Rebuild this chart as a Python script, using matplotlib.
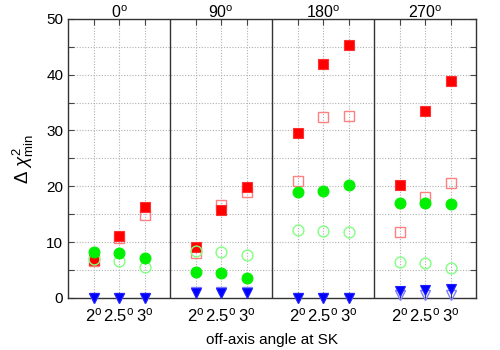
import matplotlib
matplotlib.use("Agg")
import matplotlib.pyplot as plt
import numpy as np

plt.rcParams['font.family'] = ['Liberation Sans', 'DejaVu Sans']
plt.rcParams['mathtext.fontset'] = 'custom'
plt.rcParams['mathtext.rm'] = 'Liberation Sans'
plt.rcParams['mathtext.it'] = 'Liberation Sans:italic'
plt.rcParams['font.size'] = 10

# Data
panels = ['0', '90', '180', '270']
offaxis = ['2', '2.5', '3']
red_filled = [[6.8, 11.0, 16.2], [9.1, 15.8, 19.9], [29.6, 42.0, 45.3], [20.2, 33.5, 38.8]]
red_open = [[6.6, 10.7, 14.9], [8.0, 16.7, 19.0], [21.0, 32.5, 32.6], [11.8, 18.0, 20.5]]
green_filled = [[8.2, 8.1, 7.2], [4.7, 4.5, 3.5], [18.9, 19.2, 20.2], [17.0, 17.0, 16.8]]
green_open = [[7.0, 6.6, 5.6], [8.4, 8.2, 7.7], [12.2, 12.0, 11.8], [6.4, 6.2, 5.4]]
blue_filled = [[0.0, 0.0, 0.0], [0.8, 0.8, 0.8], [0.0, 0.0, 0.0], [1.3, 1.4, 1.6]]
blue_open = [[0.0, 0.0, 0.0], [1.1, 1.1, 1.1], [0.0, 0.0, 0.0], [0.6, 0.6, 0.6]]

fig = plt.figure(figsize=(5, 3.5), dpi=100)
ax = fig.add_axes([0.136, 0.149, 0.816, 0.797])

npan = len(panels)
nx = len(offaxis)
xs = np.array([p * (nx + 1) + k + 1 for p in range(npan) for k in range(nx)])

def flat(a):
    return np.array(a).ravel()

ms = 7.5
ax.plot(xs, flat(red_open), 's', ms=ms, mfc='none', mec='#ff8080', mew=1.0, clip_on=False, zorder=3)
ax.plot(xs, flat(red_filled), 's', ms=ms, mfc='#ff0000', mec='#ff3030', mew=0.8, clip_on=False, zorder=3)
ax.plot(xs, flat(green_open), 'o', ms=ms + 0.3, mfc='none', mec='#80ff80', mew=1.0, clip_on=False, zorder=4)
ax.plot(xs, flat(green_filled), 'o', ms=ms + 0.3, mfc='#00f000', mec='#00f000', mew=0.8, clip_on=False, zorder=4)
ax.plot(xs, flat(blue_open), 'v', ms=ms, mfc='none', mec='#8080ff', mew=1.0, clip_on=False, zorder=5)
ax.plot(xs, flat(blue_filled), 'v', ms=ms, mfc='#0000ff', mec='#2020ff', mew=0.8, clip_on=False, zorder=5)

ax.set_xlim(0, npan * (nx + 1))
ax.set_ylim(0, 50)

# panel separators
for p in range(1, npan):
    ax.axvline(p * (nx + 1), color='#333333', lw=1.0, zorder=2)

# grid
ax.set_yticks(np.arange(0, 51, 5))
ax.set_yticklabels([str(v) if v % 10 == 0 else '' for v in range(0, 51, 5)])
ax.set_xticks(xs)
ax.set_xticklabels([r'$\mathrm{%s}^\mathrm{o}$' % o for _ in panels for o in offaxis], fontsize=12)
ax.grid(True, color='#b0b0b0', ls=(0, (1, 1.5)), lw=0.8, zorder=0)
ax.tick_params(direction='in', top=True, right=True, length=4, width=0.8, color='#444444')
ax.tick_params(axis='x', pad=6)
ax.tick_params(axis='y', labelsize=11)

for s in ax.spines.values():
    s.set_color('#333333')
    s.set_linewidth(1.0)

for p, name in enumerate(panels):
    ax.text(p * (nx + 1) + (nx + 1) / 2, 50.25, r'$\mathrm{%s}^\mathrm{o}$' % name,
            ha='center', va='baseline', fontsize=11.5)

ax.set_xlabel('off-axis angle at SK', fontsize=11, labelpad=6)
ax.set_ylabel(r'$\Delta\ \chi^2_\mathrm{min}$', fontsize=13.5, labelpad=7)

fig.savefig('out.png', dpi=100)
